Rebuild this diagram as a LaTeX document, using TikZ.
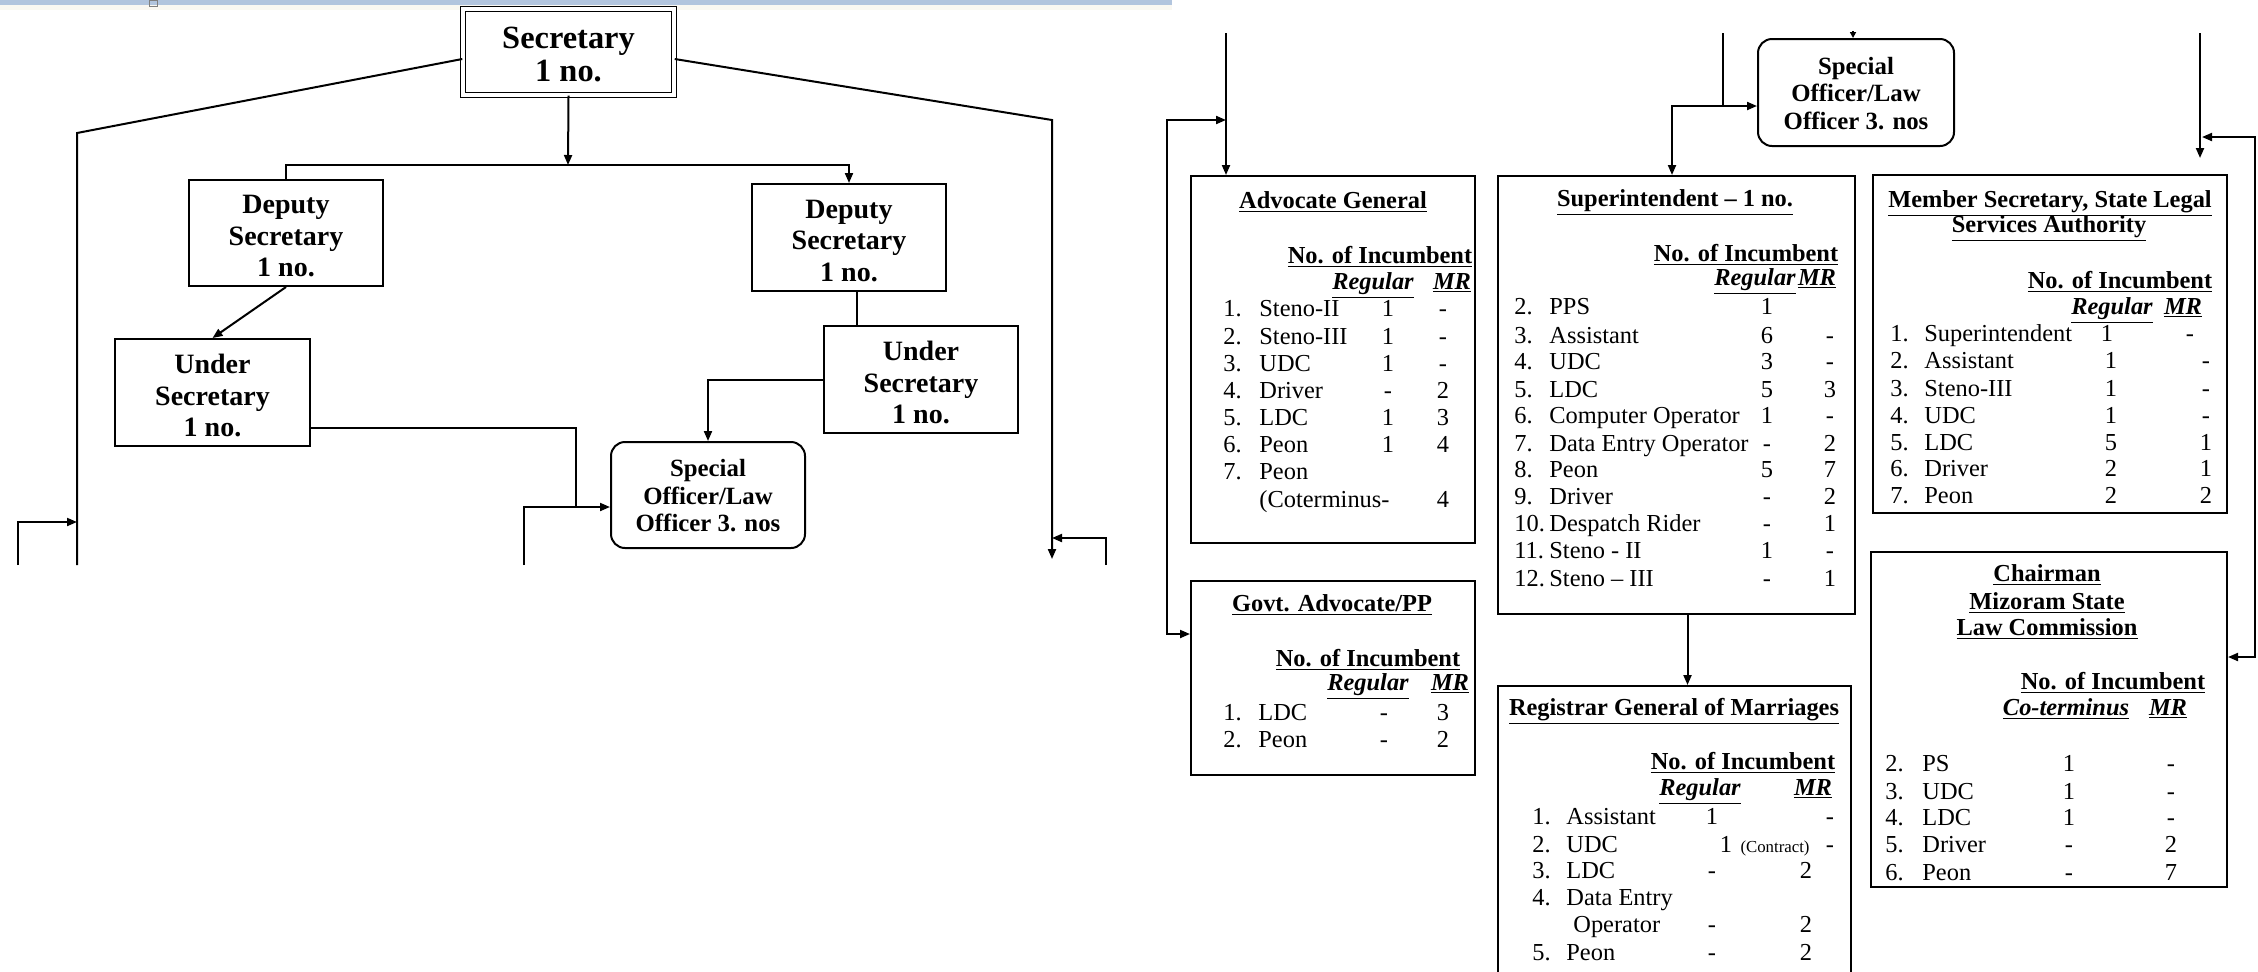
\documentclass[tikz,border=0pt]{standalone}
\usepackage{fontspec}
\setmainfont{Liberation Serif}
\usetikzlibrary{arrows.meta,fit}
\definecolor{bandblue}{RGB}{178,197,222}
\definecolor{bandcream}{RGB}{250,248,242}
\newcounter{tn}
\newcommand\tnode[3]{\stepcounter{tn}\node[txt,#1] (n\arabic{tn}) at #2 {#3};}
\def\colN{0}\def\colT{0}\def\colR{0}\def\colM{0}
\newcommand\trow[5]{%
  \tnode{anchor=base west}{(\colN,#1+8)}{#2}%
  \tnode{anchor=base west}{(\colT,#1+8)}{#3}%
  \tnode{anchor=base}{(\colR,#1+8)}{#4}%
  \tnode{anchor=base}{(\colM,#1+8)}{#5}}
\tikzset{
  ln/.style={line width=1pt},
  arr/.style={ln,-{Triangle[length=5pt,width=4pt]}},
  arrb/.style={ln,{Triangle[length=5pt,width=4pt]}-{Triangle[length=5pt,width=4pt]}},
  bx/.style={draw,line width=1pt,inner sep=0pt},
  rbx/.style={bx,rounded corners=7pt},
  ctext/.style={inner sep=0pt,align=center},
  lf/.style={ctext,font=\fontsize{14}{15.75}\selectfont\bfseries},
  sf/.style={ctext,font=\fontsize{12.4}{13.75}\selectfont\bfseries},
  txt/.style={inner sep=0pt,font=\fontsize{12.2}{14}\selectfont},
  hd/.style={txt,font=\fontsize{12.2}{14}\selectfont\bfseries},
  hi/.style={txt,font=\fontsize{12.2}{14}\selectfont\bfseries\itshape},
}
\begin{document}
\begin{tikzpicture}[x=0.5pt,y=-0.5pt]
\path[use as bounding box] (0,0) rectangle (2258,971);
\clip (0,0) rectangle (2258,971);
\fill[white] (0,0) rectangle (2258,971);
\fill[bandblue] (0,0) rectangle (1172,5);
\fill[bandcream] (0,5) rectangle (1172,10);
\draw[gray,line width=0.4pt] (149,0) rectangle (157,6);

% ---------- left page ----------
\node[draw,double,double distance=1.6pt,line width=0.7pt,inner sep=0pt,fit={(463,9)(674,95)}] (sec) {};
\node[ctext,font=\fontsize{16.2}{16.4}\selectfont\bfseries] (sect) at ([yshift=-1.3pt]sec.center) {Secretary\\1 no.};
\node[bx,fit={(189,180)(383,286)}] (dep1) {};
\node[lf] (dep1t) at ([yshift=-1.7pt]dep1.center) {Deputy\\Secretary\\1 no.};
\node[bx,fit={(752,184)(946,291)}] (dep2) {};
\node[lf] (dep2t) at ([yshift=-1.7pt]dep2.center) {Deputy\\Secretary\\1 no.};
\node[bx,fit={(115,339)(310,446)}] (und1) {};
\node[lf] (und1t) at ([yshift=-1.6pt]und1.center) {Under\\Secretary\\1 no.};
\node[bx,fit={(824,326)(1018,433)}] (und2) {};
\node[lf] (und2t) at ([yshift=-1.6pt]und2.center) {Under\\Secretary\\1 no.};
\node[rbx,fit={(611,442)(805,548)}] (spl1) {};
\node[sf] (spl1t) at ([yshift=-0.5pt]spl1.center) {Special\\Officer/Law\\Officer 3. nos};

\coordinate (b0) at (568,165);
\draw[arr] (sec.south) -- (b0);
\draw[arr] (dep1.north) -- (dep1.north |- b0) -- (dep2.north |- b0) -- (dep2.north);
\coordinate (lt) at (77,133);
\coordinate (lb) at (77,565);
\draw[ln] ([yshift=-3.5pt]sec.west) -- (lt) -- (lb);
\coordinate (rt) at (1052,120);
\coordinate (rb) at (1052,559);
\draw[arr] ([yshift=-3.5pt]sec.east) -- (rt) -- (rb);
\coordinate (la) at (18,565);
\coordinate (lc) at (18,522);
\draw[arr] (la) -- (lc) -- (lc -| lt);
\coordinate (ra) at (1106,565);
\coordinate (rc) at (1106,538);
\draw[arr] (ra) -- (rc) -- (rc -| rt);
\draw[arr] (dep1.south) -- (und1.north);
\draw[ln] ([xshift=4pt]dep2.south) -- ([xshift=4pt]dep2.south |- und2.north);
\draw[arr] (und2.west) -| (spl1.north);
\coordinate (j3) at (576,507);
\draw[ln] ([yshift=-17.75pt]und1.east) -| (j3);
\coordinate (j4) at (524,565);
\draw[arr] (j4) |- (spl1.west |- j3);

% ---------- right page ----------
\node[rbx,fit={(1758,39)(1954,146)}] (spl2) {};
\node[sf] (spl2t) at ([yshift=-0.5pt]spl2.center) {Special\\Officer/Law\\Officer 3. nos};
\node[bx,fit={(1191,176)(1475,543)}] (adv) {};
\node[bx,fit={(1498,176)(1855,614)}] (sup) {};
\node[bx,fit={(1873,175)(2227,513)}] (mem) {};
\node[bx,fit={(1191,581)(1475,775)}] (gov) {};
\node[bx,fit={(1498,686)(1851,1000)}] (reg) {};
\node[bx,fit={(1871,552)(2227,887)}] (chr) {};

\coordinate (t0) at (1853,31);
\draw[ln,-{Triangle[length=3pt,width=3pt]}] (t0) -- (t0 |- spl2.north);
\coordinate (a0) at (1226,33);
\draw[arr] (a0) -- (a0 |- adv.north);
\coordinate (a1) at (1226,120);
\coordinate (a2) at (1167,120);
\coordinate (a3) at (1167,634);
\draw[arrb] (a1) -- (a2) -- (a3) -- (a3 -| gov.west);
\coordinate (s0) at (1723,33);
\coordinate (s1) at (1723,106);
\draw[ln] (s0) -- (s1);
\coordinate (s2) at (1672,106);
\draw[arrb] (s2 |- sup.north) -- (s2) -- (s2 -| spl2.west);
\draw[arr] ([xshift=5.5pt]sup.south) -- ([xshift=5.5pt]sup.south |- reg.north);
\coordinate (m0) at (2200,33);
\coordinate (m1) at (2200,158);
\draw[arr] (m0) -- (m1);
\coordinate (m2) at (2202,137);
\coordinate (m3) at (2255,137);
\coordinate (m4) at (2255,657);
\draw[arrb] (m2) -- (m3) -- (m4) -- (m4 -| chr.east);

% Advocate General
\def\colN{1223}\def\colT{1259}\def\colR{1388}\def\colM{1443}
\tnode{hd,anchor=base}{(1333,208)}{\underline{Advocate General}}
\tnode{hd,anchor=base}{(1380,263)}{\underline{No. of Incumbent}}
\tnode{hi,anchor=base}{(1373,289)}{\underline{Regular}}
\tnode{hi,anchor=base}{(1452,289)}{\underline{MR}}
\trow{308}{1.}{Steno-II}{1}{-}
\trow{336}{2.}{Steno-III}{1}{-}
\trow{363}{3.}{UDC}{1}{-}
\trow{390}{4.}{Driver}{-}{2}
\trow{417}{5.}{LDC}{1}{3}
\trow{444}{6.}{Peon}{1}{4}
\trow{471}{7.}{Peon}{}{}
\trow{499}{}{(Coterminus-}{}{4}

% Superintendent
\def\colN{1514}\def\colT{1549}\def\colR{1767}\def\colM{1830}
\tnode{hd,anchor=base}{(1675,206)}{\underline{Superintendent -- 1 no.}}
\tnode{hd,anchor=base}{(1746,261)}{\underline{No. of Incumbent}}
\tnode{hi,anchor=base}{(1755,285)}{\underline{Regular}}
\tnode{hi,anchor=base}{(1817,285)}{\underline{MR}}
\trow{306}{2.}{PPS}{1}{}
\trow{335}{3.}{Assistant}{6}{-}
\trow{361}{4.}{UDC}{3}{-}
\trow{389}{5.}{LDC}{5}{3}
\trow{415}{6.}{Computer Operator}{1}{-}
\trow{443}{7.}{Data Entry Operator}{-}{2}
\trow{469}{8.}{Peon}{5}{7}
\trow{496}{9.}{Driver}{-}{2}
\trow{523}{10.}{Despatch Rider}{-}{1}
\trow{550}{11.}{Steno - II}{1}{-}
\trow{578}{12.}{Steno -- III}{-}{1}

% Member Secretary
\def\colN{1890}\def\colT{1924}\def\colR{2111}\def\colM{2206}
\tnode{hd,anchor=base}{(2050,207)}{\underline{Member Secretary, State Legal}}
\tnode{hd,anchor=base}{(2049,232)}{\underline{Services Authority}}
\tnode{hd,anchor=base}{(2120,288)}{\underline{No. of Incumbent}}
\tnode{hi,anchor=base}{(2112,314)}{\underline{Regular}}
\tnode{hi,anchor=base}{(2183,314)}{\underline{MR}}
\begin{scope}
\def\colR{2107}\def\colM{2190}
\trow{333}{1.}{Superintendent}{1}{-}
\end{scope}
\trow{360}{2.}{Assistant}{1}{-}
\trow{388}{3.}{Steno-III}{1}{-}
\trow{415}{4.}{UDC}{1}{-}
\trow{442}{5.}{LDC}{5}{1}
\trow{468}{6.}{Driver}{2}{1}
\trow{495}{7.}{Peon}{2}{2}

% Govt. Advocate/PP
\def\colN{1223}\def\colT{1258}\def\colR{1384}\def\colM{1443}
\tnode{hd,anchor=base}{(1332,611)}{\underline{Govt. Advocate/PP}}
\tnode{hd,anchor=base}{(1368,666)}{\underline{No. of Incumbent}}
\tnode{hi,anchor=base}{(1368,690)}{\underline{Regular}}
\tnode{hi,anchor=base}{(1450,690)}{\underline{MR}}
\trow{712}{1.}{LDC}{-}{3}
\trow{739}{2.}{Peon}{-}{2}

% Registrar General of Marriages
\def\colN{1532}\def\colT{1566}\def\colR{1712}\def\colM{1806}
\tnode{hd,anchor=base}{(1674,715)}{\underline{Registrar General of Marriages}}
\tnode{hd,anchor=base}{(1743,769)}{\underline{No. of Incumbent}}
\tnode{hi,anchor=base}{(1700,795)}{\underline{Regular}}
\tnode{hi,anchor=base}{(1813,795)}{\underline{MR}}
\trow{816}{1.}{Assistant}{1}{}
\tnode{anchor=base}{(1830,824)}{-}
\trow{844}{2.}{UDC}{}{}
\tnode{anchor=base}{(1726,852)}{1}
\tnode{anchor=base,font=\fontsize{8.4}{10}\selectfont}{(1775,852)}{(Contract)}
\tnode{anchor=base}{(1830,852)}{-}
\trow{870}{3.}{LDC}{-}{2}
\trow{897}{4.}{Data Entry}{}{}
\tnode{anchor=base west}{(1573,932)}{Operator}
\tnode{anchor=base}{(\colR,932)}{-}
\tnode{anchor=base}{(\colM,932)}{2}
\trow{952}{5.}{Peon}{-}{2}

% Chairman
\def\colN{1885}\def\colT{1922}\def\colR{2069}\def\colM{2171}
\tnode{hd,anchor=base}{(2047,581)}{\underline{Chairman}}
\tnode{hd,anchor=base}{(2047,609)}{\underline{Mizoram State}}
\tnode{hd,anchor=base}{(2047,635)}{\underline{Law Commission}}
\tnode{hd,anchor=base}{(2113,689)}{\underline{No. of Incumbent}}
\tnode{hi,anchor=base}{(2066,715)}{\underline{Co-terminus}}
\tnode{hi,anchor=base}{(2168,715)}{\underline{MR}}
\trow{763}{2.}{PS}{1}{-}
\trow{791}{3.}{UDC}{1}{-}
\trow{817}{4.}{LDC}{1}{-}
\trow{844}{5.}{Driver}{-}{2}
\trow{872}{6.}{Peon}{-}{7}
\end{tikzpicture}
\end{document}
